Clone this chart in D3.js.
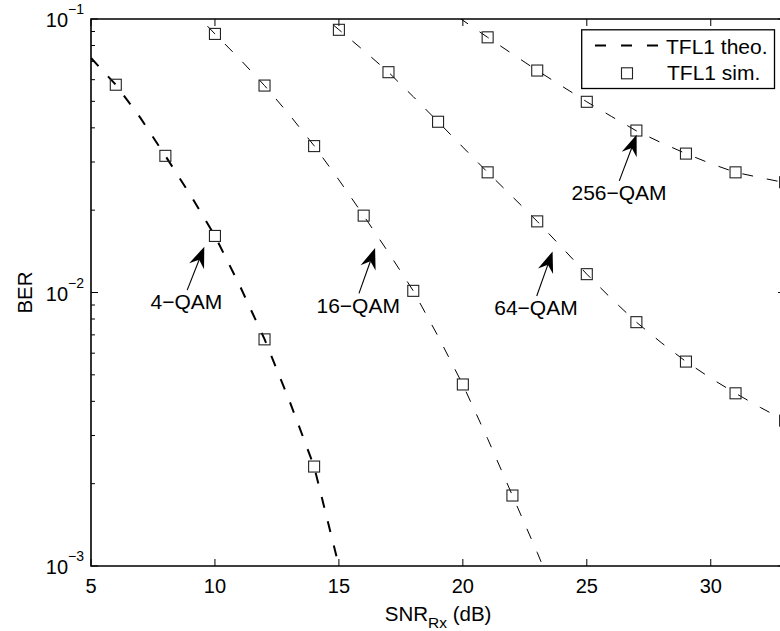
<!DOCTYPE html>
<html>
<head>
<meta charset="utf-8">
<script src="https://cdn.jsdelivr.net/npm/d3@7"></script>
<style>
  html, body { margin: 0; padding: 0; background: #fff; }
  svg { display: block; font-family: "Liberation Sans", Arial, Helvetica, sans-serif; }
</style>
</head>
<body>
<svg width="780" height="631"></svg>
<script>
// theory curves (SNR in dB, BER)
const snrTheo4 = [5, 6, 7, 8, 9, 10, 11, 12, 13, 14, 15]
const berTheo4 = [0.0720, 0.0575, 0.0434, 0.0316, 0.0228, 0.0161, 0.0106, 0.00675, 0.00403, 0.00231, 0.00100]
const snrTheo16 = [9, 10, 11, 12, 13, 14, 15, 16, 17, 18, 19, 20, 21, 22, 23, 24]
const berTheo16 = [0.1096, 0.0882, 0.0714, 0.0571, 0.0447, 0.0344, 0.0258, 0.0191, 0.0140, 0.01014, 0.00692, 0.00460, 0.00292, 0.00181, 0.00112, 0.00068]
const snrTheo64 = [14, 15, 16, 17, 18, 19, 20, 21, 22, 23, 24, 25, 26, 27, 28, 29, 30, 31, 32, 33]
const berTheo64 = [0.109, 0.0914, 0.0767, 0.0639, 0.0520, 0.0421, 0.0340, 0.0275, 0.0224, 0.0182, 0.0146, 0.01167, 0.00948, 0.00779, 0.00656, 0.00559, 0.00486, 0.00428, 0.00380, 0.00340]
const snrTheo256 = [19, 20, 21, 22, 23, 24, 25, 26, 27, 28, 29, 30, 31, 32, 33]
const berTheo256 = [0.1135, 0.0989, 0.0857, 0.0745, 0.0648, 0.0568, 0.0498, 0.0440, 0.0390, 0.0353, 0.0322, 0.0296, 0.0275, 0.0263, 0.0252]

// simulated points
const snrSim4 = [6, 8, 10, 12, 14]
const berSim4 = [0.0575, 0.0316, 0.0161, 0.00674, 0.00231]
const snrSim16 = [10, 12, 14, 16, 18, 20, 22]
const berSim16 = [0.0882, 0.0571, 0.0343, 0.0191, 0.01014, 0.00461, 0.00181]
const snrSim64 = [15, 17, 19, 21, 23, 25, 27, 29, 31, 33]
const berSim64 = [0.0913, 0.0639, 0.0421, 0.0275, 0.0182, 0.01167, 0.00779, 0.00559, 0.00428, 0.0034]
const snrSim256 = [21, 23, 25, 27, 29, 31, 33]
const berSim256 = [0.0857, 0.0648, 0.0498, 0.0391, 0.0322, 0.0275, 0.0253]

const xTicks = [5, 10, 15, 20, 25, 30]
const yDecades = [-3, -2, -1]

// annotations: label, arrow tip, arrow tail, label anchor (data coords)
const annoLabels = ['4\u2212QAM', '16\u2212QAM', '64\u2212QAM', '256\u2212QAM']
const annoTip = [[9.57, 0.0147], [16.46, 0.01454], [23.62, 0.01413], [27.01, 0.0377]]
const annoTail = [[8.88, 0.0102], [15.81, 0.00993], [22.98, 0.00971], [26.31, 0.0256]]
const annoText = [[8.85, 0.00869], [15.78, 0.00841], [22.95, 0.00828], [26.3, 0.0218]]

const svg = d3.select('svg')
const pLeft = 91, pTop = 19, pBottom = 566
const x = d3.scaleLinear().domain([5, 33]).range([pLeft, pLeft + 28 * 24.79])
const y = d3.scaleLog().domain([1e-3, 1e-1]).range([pBottom, pTop])
const pRight = x.range()[1]

svg.append('defs').append('clipPath').attr('id', 'plot').
  append('rect').attr('x', pLeft).attr('y', pTop).
  attr('width', pRight - pLeft).attr('height', pBottom - pTop)

// ticks
const ticks = svg.append('g').attr('stroke', '#000').attr('stroke-width', 1)
xTicks.forEach(t => {
  ticks.append('line').attr('x1', x(t)).attr('x2', x(t)).attr('y1', pBottom).attr('y2', pBottom - 7)
  ticks.append('line').attr('x1', x(t)).attr('x2', x(t)).attr('y1', pTop).attr('y2', pTop + 7)
})
yDecades.forEach(e => {
  for (let m = 1; m < 10; m++) {
    const v = m * Math.pow(10, e)
    if (v > 0.1 + 1e-9) break
    const len = m === 1 ? 7 : 4
    ticks.append('line').attr('x1', pLeft).attr('x2', pLeft + len).attr('y1', y(v)).attr('y2', y(v))
    ticks.append('line').attr('x1', pRight).attr('x2', pRight - len).attr('y1', y(v)).attr('y2', y(v))
  }
})

// tick labels
svg.append('g').selectAll('text').data(xTicks).join('text').
  attr('x', d => x(d)).attr('y', 593).
  attr('text-anchor', 'middle').attr('font-size', 20).
  text(d => d)

const yl = svg.append('g').selectAll('text').data(yDecades).join('text').
  attr('x', 84).attr('y', d => y(Math.pow(10, d)) + 8.3).
  attr('text-anchor', 'end').attr('font-size', 20)
yl.append('tspan').text('10')
yl.append('tspan').attr('font-size', 14).attr('dy', -13).text(d => '\u2212' + (-d))

// axis labels
const xl = svg.append('text').attr('x', (pLeft + pRight) / 2).attr('y', 620.5).
  attr('text-anchor', 'middle').attr('font-size', 20.5)
xl.append('tspan').text('SNR')
xl.append('tspan').attr('font-size', 15.5).attr('dy', 7).text('Rx')
xl.append('tspan').attr('dy', -7).text(' (dB)')

svg.append('text').attr('transform', `translate(31.5,${y(0.01)}) rotate(-90)`).
  attr('text-anchor', 'middle').attr('font-size', 20.5).text('BER')

// curves
const plot = svg.append('g').attr('clip-path', 'url(#plot)')
const line = d3.line().x(d => x(d[0])).y(d => y(d[1]))
const curves = [
  { snr: snrTheo4, ber: berTheo4, w: 2 },
  { snr: snrTheo16, ber: berTheo16, w: 1 },
  { snr: snrTheo64, ber: berTheo64, w: 1 },
  { snr: snrTheo256, ber: berTheo256, w: 1 }
]
curves.forEach(c => {
  plot.append('path').
    attr('d', line(d3.zip(c.snr, c.ber))).
    attr('fill', 'none').attr('stroke', '#000').
    attr('stroke-width', c.w).attr('stroke-dasharray', '11,14')
})

const sims = [
  d3.zip(snrSim4, berSim4), d3.zip(snrSim16, berSim16),
  d3.zip(snrSim64, berSim64), d3.zip(snrSim256, berSim256)
].flat()
plot.append('g').selectAll('rect').data(sims).join('rect').
  attr('x', d => x(d[0]) - 5.5).attr('y', d => y(d[1]) - 5.5).
  attr('width', 11).attr('height', 11).
  attr('fill', 'none').attr('stroke', '#222').attr('stroke-width', 1.1)

// annotations
annoLabels.forEach((lab, i) => {
  const tx = x(annoTip[i][0]), ty = y(annoTip[i][1])
  const sx = x(annoTail[i][0]), sy = y(annoTail[i][1])
  const len = Math.hypot(tx - sx, ty - sy)
  const ux = (tx - sx) / len, uy = (ty - sy) / len
  const px = -uy, py = ux
  const hl = 21, hw = 8, notch = 14
  svg.append('line').attr('x1', sx).attr('y1', sy).
    attr('x2', tx - ux * notch).attr('y2', ty - uy * notch).
    attr('stroke', '#000').attr('stroke-width', 1.1)
  const head = [
    [tx, ty],
    [tx - ux * hl + px * hw, ty - uy * hl + py * hw],
    [tx - ux * notch, ty - uy * notch],
    [tx - ux * hl - px * hw, ty - uy * hl - py * hw]
  ]
  svg.append('path').attr('d', 'M' + head.join('L') + 'Z').attr('fill', '#000')
  svg.append('text').attr('x', x(annoText[i][0])).attr('y', y(annoText[i][1])).
    attr('text-anchor', 'middle').attr('font-size', 21).text(lab)
})

// frame
svg.append('path').
  attr('d', `M${pLeft},${pBottom}V${pTop}H${pRight}V${pBottom}Z`).
  attr('fill', 'none').attr('stroke', '#000').attr('stroke-width', 1.6)

// legend
const lg = svg.append('g')
lg.append('rect').attr('x', 581.7).attr('y', 29.8).attr('width', 192.8).attr('height', 58.7).
  attr('fill', '#fff').attr('stroke', '#000').attr('stroke-width', 1.3)
lg.append('line').attr('x1', 595).attr('x2', 658.3).attr('y1', 45.5).attr('y2', 45.5).
  attr('stroke', '#000').attr('stroke-width', 2).attr('stroke-dasharray', '11,15')
lg.append('rect').attr('x', 621.5).attr('y', 67.8).attr('width', 11).attr('height', 11).
  attr('fill', 'none').attr('stroke', '#222').attr('stroke-width', 1.1)
lg.append('text').attr('x', 666).attr('y', 54).attr('font-size', 21).text('TFL1 theo.')
lg.append('text').attr('x', 667).attr('y', 80).attr('font-size', 21).text('TFL1 sim.')
</script>
</body>
</html>
